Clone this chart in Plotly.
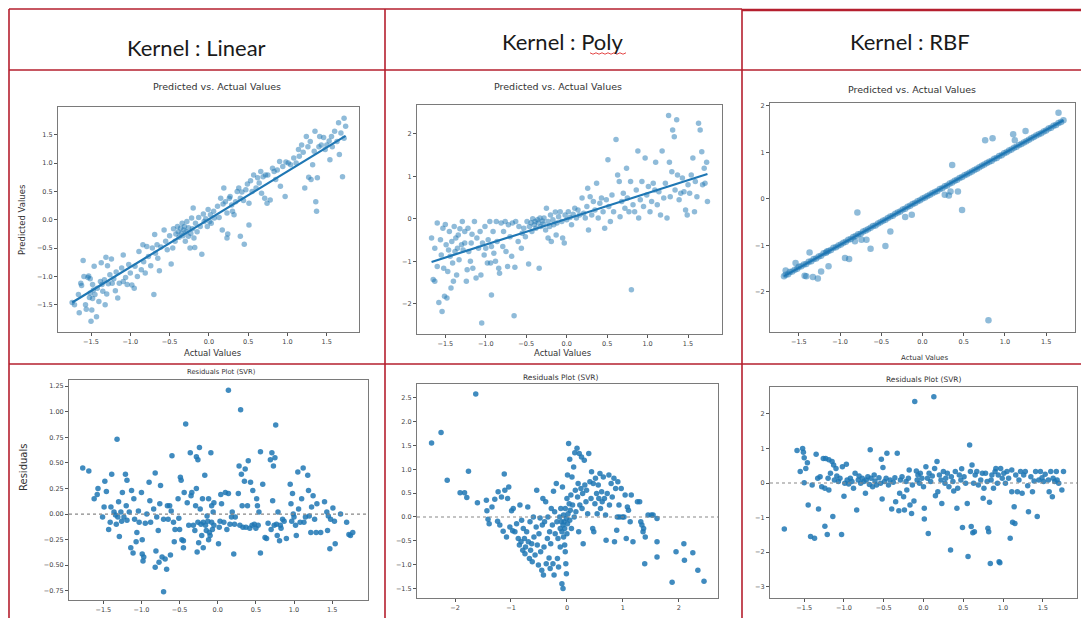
import plotly.graph_objects as go

# ---------------------------------------------------------------- data
KERNELS = ["Kernel : Linear", "Kernel : Poly", "Kernel : RBF"]
TOP_TITLE = "Predicted vs. Actual Values"
BOTTOM_TITLE = "Residuals Plot (SVR)"

# (actual, predicted) – linear kernel
LIN_POINTS = [
    (-1.74, -1.46), (-1.71, -1.50), (-1.66, -1.32), (-1.65, -1.64), (-1.63, -1.12), (-1.62, -1.16),
    (-1.60, -0.72), (-1.59, -1.00), (-1.57, -1.50), (-1.56, -1.58), (-1.54, -1.02), (-1.53, -0.99),
    (-1.52, -1.37), (-1.51, -1.04), (-1.51, -1.29), (-1.50, -1.79), (-1.49, -1.59), (-1.48, -1.14),
    (-1.48, -1.39), (-1.47, -1.24), (-1.46, -0.82), (-1.45, -1.32), (-1.43, -1.71), (-1.42, -1.21),
    (-1.40, -1.44), (-1.38, -1.09), (-1.37, -0.76), (-1.36, -1.14), (-1.35, -1.26), (-1.33, -1.06),
    (-1.32, -1.50), (-1.31, -0.66), (-1.30, -1.31), (-1.29, -0.81), (-1.28, -1.13), (-1.26, -0.97),
    (-1.24, -0.69), (-1.23, -1.12), (-1.21, -1.04), (-1.19, -1.25), (-1.18, -0.92), (-1.16, -1.38),
    (-1.14, -1.12), (-1.11, -0.85), (-1.09, -1.09), (-1.09, -0.62), (-1.06, -1.02), (-1.04, -1.14),
    (-1.02, -0.79), (-1.00, -0.94), (-0.98, -1.15), (-0.95, -1.21), (-0.94, -0.82), (-0.91, -1.00),
    (-0.89, -0.56), (-0.86, -0.88), (-0.84, -0.44), (-0.83, -0.74), (-0.81, -0.94), (-0.79, -0.47),
    (-0.77, -0.65), (-0.74, -0.81), (-0.72, -0.50), (-0.70, -1.32), (-0.69, -0.26), (-0.68, -0.59),
    (-0.66, -0.44), (-0.65, -0.68), (-0.63, -0.90), (-0.61, -0.48), (-0.57, -0.18), (-0.55, -0.38),
    (-0.53, -0.53), (-0.50, -0.28), (-0.48, -0.78), (-0.46, -0.50), (-0.45, -0.16), (-0.43, -0.38),
    (-0.42, -0.25), (-0.40, -0.12), (-0.39, -0.21), (-0.38, -0.31), (-0.36, -0.15), (-0.35, -0.24),
    (-0.34, -0.06), (-0.33, -0.28), (-0.32, -0.18), (-0.31, -0.12), (-0.30, -0.38), (-0.29, -0.21),
    (-0.28, -0.03), (-0.26, -0.29), (-0.26, -0.14), (-0.24, -0.50), (-0.23, -0.24), (-0.22, 0.03),
    (-0.21, -0.16), (-0.20, 0.21), (-0.19, -0.32), (-0.18, -0.49), (-0.17, -0.06), (-0.15, -0.21),
    (-0.13, 0.04), (-0.11, -0.12), (-0.09, -0.61), (-0.07, 0.10), (-0.06, -0.03), (-0.04, 0.02),
    (-0.02, -0.12), (-0.01, 0.18), (0.01, -0.03), (0.02, 0.09), (0.03, -0.06), (0.06, 0.15),
    (0.07, 0.03), (0.11, 0.24), (0.13, 0.04), (0.15, 0.38), (0.17, -0.18), (0.18, 0.28),
    (0.19, 0.56), (0.21, 0.32), (0.23, 0.12), (0.23, -0.32), (0.24, -0.25), (0.26, 0.38),
    (0.27, 0.41), (0.29, 0.26), (0.30, 0.15), (0.32, 0.09), (0.34, 0.32), (0.36, 0.50),
    (0.38, 0.56), (0.40, 0.38), (0.40, -0.29), (0.42, 0.49), (0.44, 0.34), (0.45, -0.43),
    (0.47, 0.53), (0.49, 0.63), (0.51, 0.29), (0.51, -0.09), (0.53, 0.69), (0.55, 0.50),
    (0.57, 0.79), (0.60, 0.56), (0.62, 0.74), (0.64, 0.65), (0.66, 0.85), (0.67, 0.47),
    (0.69, 0.76), (0.71, 0.38), (0.72, 0.79), (0.74, 0.29), (0.75, 0.79), (0.78, 0.35),
    (0.81, 0.91), (0.83, 0.85), (0.85, 0.71), (0.87, 0.88), (0.90, 1.03), (0.91, 0.59),
    (0.94, 0.94), (0.97, 0.41), (0.98, 1.02), (1.01, 1.00), (1.04, 0.97), (1.08, 1.09),
    (1.11, 1.00), (1.14, 1.24), (1.15, 1.12), (1.18, 1.32), (1.20, 1.19), (1.22, 0.56),
    (1.24, 1.47), (1.26, 1.29), (1.27, 0.75), (1.29, 1.38), (1.30, 0.71), (1.32, 0.97),
    (1.34, 1.21), (1.35, 1.56), (1.36, 0.32), (1.37, 0.15), (1.38, 0.74), (1.40, 1.29),
    (1.41, 1.47), (1.43, 1.32), (1.46, 1.45), (1.48, 1.24), (1.50, 1.32), (1.53, 1.39),
    (1.54, 1.06), (1.56, 1.47), (1.57, 1.29), (1.60, 1.56), (1.63, 1.38), (1.65, 1.71),
    (1.66, 1.15), (1.68, 1.53), (1.70, 0.76), (1.72, 1.79), (1.74, 1.65), (1.72, 1.44),
]

# (actual, predicted) – polynomial kernel
POLY_POINTS = [
    (-1.67, -0.45), (-1.65, -1.43), (-1.63, -0.69), (-1.63, -1.47), (-1.60, -0.10), (-1.60, -1.12),
    (-1.58, -1.97), (-1.56, -0.49), (-1.55, -0.85), (-1.54, -2.18), (-1.53, -0.22), (-1.52, -1.16),
    (-1.51, -1.82), (-1.50, -0.13), (-1.49, -0.61), (-1.48, -1.86), (-1.47, -1.24), (-1.46, -0.73),
    (-1.45, -0.30), (-1.44, -0.88), (-1.43, -1.63), (-1.42, -0.53), (-1.41, -1.04), (-1.40, -1.47),
    (-1.39, -0.18), (-1.38, -0.77), (-1.37, -0.45), (-1.36, -1.32), (-1.35, -0.69), (-1.34, -0.38),
    (-1.33, -0.96), (-1.32, -0.23), (-1.30, -0.61), (-1.29, -0.06), (-1.28, -0.73), (-1.26, -0.30),
    (-1.26, -0.57), (-1.24, -1.47), (-1.23, -1.20), (-1.22, -0.22), (-1.21, -0.77), (-1.19, -1.00),
    (-1.18, -0.57), (-1.17, -0.36), (-1.16, -1.16), (-1.14, -0.06), (-1.12, -1.39), (-1.11, -0.45),
    (-1.09, -0.69), (-1.07, -0.30), (-1.06, -1.32), (-1.05, -2.45), (-1.04, -0.57), (-1.02, -0.85),
    (-1.01, -0.18), (-1.00, -0.69), (-0.98, -1.04), (-0.97, -0.49), (-0.95, -0.06), (-0.94, -1.04),
    (-0.93, -1.79), (-0.93, -0.65), (-0.91, -0.30), (-0.90, -0.81), (-0.88, -1.00), (-0.87, -0.06),
    (-0.86, -0.53), (-0.84, -1.16), (-0.83, -1.28), (-0.81, -0.10), (-0.79, -0.65), (-0.78, -0.30),
    (-0.76, -0.06), (-0.75, -0.77), (-0.73, -1.12), (-0.72, -0.14), (-0.70, -0.42), (-0.68, -0.88),
    (-0.67, -0.10), (-0.65, -2.28), (-0.64, -1.14), (-0.63, -0.06), (-0.60, -0.53), (-0.59, -0.18),
    (-0.56, -0.69), (-0.55, -0.34), (-0.53, -0.22), (-0.51, -0.42), (-0.49, -0.06), (-0.47, -1.06),
    (-0.46, -0.18), (-0.44, -0.09), (-0.43, -0.30), (-0.42, 0.00), (-0.40, -0.14), (-0.39, -0.06),
    (-0.38, -0.22), (-0.36, -0.02), (-0.35, -0.10), (-0.34, -1.16), (-0.33, 0.02), (-0.32, -0.18),
    (-0.30, -0.05), (-0.29, -0.12), (-0.28, 0.02), (-0.26, -0.26), (-0.25, 0.25), (-0.23, -0.06),
    (-0.23, -0.45), (-0.21, -0.18), (-0.20, 0.09), (-0.19, -0.53), (-0.17, -0.02), (-0.16, -0.14),
    (-0.14, 0.16), (-0.13, -0.38), (-0.12, -0.10), (-0.10, 0.05), (-0.08, 0.17), (-0.06, -0.06),
    (-0.05, -0.45), (-0.03, -0.57), (-0.02, 0.09), (0.00, -0.02), (0.02, 0.17), (0.04, 0.03),
    (0.06, -0.14), (0.08, 0.11), (0.10, 0.25), (0.12, 0.02), (0.14, 0.21), (0.16, 0.09),
    (0.19, 0.49), (0.21, 0.13), (0.23, 0.02), (0.25, 0.29), (0.26, 0.72), (0.27, -0.26),
    (0.29, 0.52), (0.31, 0.09), (0.33, 0.41), (0.35, 0.21), (0.37, 0.84), (0.39, 0.02),
    (0.41, 0.37), (0.43, 0.49), (0.45, 0.17), (0.47, -0.22), (0.49, 0.45), (0.51, 1.39),
    (0.52, 0.29), (0.54, -0.06), (0.56, 0.56), (0.58, 0.17), (0.61, 1.87), (0.63, 1.03),
    (0.65, 0.88), (0.66, 0.05), (0.68, 0.41), (0.70, 0.60), (0.72, 0.25), (0.74, 1.19),
    (0.75, 0.49), (0.77, 0.17), (0.79, 0.88), (0.80, -1.67), (0.82, 0.33), (0.84, 0.17),
    (0.86, 0.68), (0.88, 1.60), (0.89, 0.02), (0.91, 0.45), (0.93, 0.88), (0.95, 0.29),
    (0.97, 1.43), (0.99, 0.56), (1.01, 0.76), (1.03, 0.17), (1.05, 0.41), (1.07, 0.84),
    (1.09, 0.68), (1.10, 1.33), (1.12, 0.33), (1.14, 0.64), (1.16, 0.09), (1.18, 1.60),
    (1.20, 0.49), (1.22, 0.84), (1.24, 0.02), (1.26, 2.43), (1.27, 1.33), (1.28, 0.52),
    (1.30, 1.11), (1.31, 2.09), (1.33, 1.93), (1.34, 0.68), (1.36, 2.33), (1.37, 1.03),
    (1.39, 0.45), (1.41, 0.60), (1.43, 0.96), (1.45, 0.64), (1.47, 0.21), (1.49, 0.09),
    (1.50, 0.80), (1.52, 0.60), (1.54, 1.03), (1.56, 1.43), (1.58, 0.17), (1.59, 0.88),
    (1.61, 0.52), (1.63, 2.25), (1.65, 2.09), (1.67, 1.58), (1.68, 0.80), (1.70, 1.19),
    (1.71, 0.84), (1.73, 1.33), (1.74, 0.41),
]

# (actual, predicted) – RBF kernel
RBF_ACTUAL = [
    -1.66, -1.63, -1.61, -1.58, -1.55, -1.52, -1.50, -1.47, -1.44, -1.41, -1.38, -1.35, -1.32, -1.29,
    -1.26, -1.23, -1.20, -1.17, -1.14, -1.11, -1.08, -1.05, -1.02, -0.99, -0.96, -0.93, -0.90, -0.87,
    -0.84, -0.81, -0.78, -0.75, -0.72, -0.69, -0.66, -0.63, -0.60, -0.57, -0.54, -0.51, -0.48, -0.45,
    -0.42, -0.39, -0.36, -0.33, -0.30, -0.27, -0.24, -0.21, -0.18, -0.15, -0.12, -0.09, -0.06, -0.03,
    0.00, 0.03, 0.06, 0.09, 0.12, 0.15, 0.18, 0.21, 0.24, 0.27, 0.30, 0.33, 0.36, 0.39,
    0.42, 0.45, 0.48, 0.51, 0.54, 0.57, 0.60, 0.63, 0.66, 0.69, 0.72, 0.75, 0.78, 0.81,
    0.84, 0.87, 0.90, 0.93, 0.96, 0.99, 1.02, 1.05, 1.08, 1.11, 1.14, 1.17, 1.20, 1.23,
    1.26, 1.29, 1.32, 1.35, 1.38, 1.41, 1.44, 1.47, 1.50, 1.53, 1.56, 1.59, 1.62, 1.65,
    1.68, 1.71,
    # off-line points
    -0.79, 0.36, 0.76, 0.85, 1.10, 1.12, 1.25, 1.65, 0.48, 0.43, 0.27, 0.32, 0.34, -0.21,
    -0.13, -0.39, -0.45, -0.63, -0.68, -0.74, -0.82, -0.89, -0.94, -1.16, -1.14, -1.23,
    -1.27, -1.33, -1.43, -1.41, -1.37, -1.54, 0.80, -1.66, -1.68,
]
RBF_PRED = [
    -1.63, -1.62, -1.57, -1.56, -1.52, -1.50, -1.46, -1.45, -1.41, -1.40, -1.35, -1.34, -1.29, -1.28,
    -1.24, -1.22, -1.17, -1.16, -1.12, -1.10, -1.05, -1.04, -1.00, -0.98, -0.94, -0.92, -0.88, -0.86,
    -0.82, -0.80, -0.76, -0.75, -0.70, -0.68, -0.65, -0.62, -0.58, -0.57, -0.53, -0.50, -0.47, -0.45,
    -0.41, -0.38, -0.36, -0.32, -0.29, -0.27, -0.23, -0.21, -0.17, -0.15, -0.11, -0.09, -0.05, -0.03,
    0.01, 0.03, 0.06, 0.09, 0.12, 0.15, 0.17, 0.21, 0.23, 0.27, 0.29, 0.33, 0.35, 0.39,
    0.41, 0.45, 0.47, 0.51, 0.53, 0.56, 0.59, 0.62, 0.65, 0.68, 0.71, 0.74, 0.77, 0.80,
    0.82, 0.86, 0.88, 0.92, 0.94, 0.98, 1.00, 1.04, 1.06, 1.10, 1.12, 1.16, 1.18, 1.21,
    1.24, 1.27, 1.30, 1.33, 1.36, 1.39, 1.41, 1.45, 1.47, 1.51, 1.53, 1.57, 1.59, 1.63,
    1.65, 1.69,
    -0.29, 0.73, 1.26, 1.30, 1.39, 1.26, 1.46, 1.85, -0.24, 0.16, 0.09, 0.07, 0.16, -0.39,
    -0.34, -0.70, -1.01, -1.07, -0.88, -0.88, -0.91, -1.29, -1.27, -1.13, -1.45, -1.56,
    -1.71, -1.68, -1.65, -1.66, -1.15, -1.38, -2.61, -1.54, -1.66,
]

# regression line (slope, intercept) of each top panel
LIN_FIT = (0.845, 0.01)
POLY_FIT = (0.607, 0.0)
RBF_FIT = (0.988, 0.0)

# (predicted, residual) – linear kernel
LIN_RESID = [
    (-1.77, 0.45), (-1.69, 0.42), (-1.62, 0.15), (-1.57, 0.25), (-1.58, 0.19), (-1.51, -0.03),
    (-1.49, 0.07), (-1.48, 0.32), (-1.46, 0.22), (-1.43, -0.15), (-1.41, -0.08), (-1.40, 0.07),
    (-1.39, 0.39), (-1.36, 0.02), (-1.34, -0.01), (-1.33, -0.10), (-1.32, 0.73), (-1.31, -0.03),
    (-1.30, 0.12), (-1.29, -0.22), (-1.27, 0.02), (-1.26, -0.07), (-1.25, 0.21), (-1.23, -0.03),
    (-1.21, 0.39), (-1.20, 0.08), (-1.19, 0.33), (-1.19, -0.06), (-1.16, 0.02), (-1.14, -0.33),
    (-1.13, 0.23), (-1.11, -0.38), (-1.10, 0.15), (-1.09, -0.05), (-1.07, -0.27), (-1.06, -0.18),
    (-1.04, 0.03), (-1.03, -0.08), (-1.00, 0.21), (-0.99, -0.39), (-0.99, -0.25), (-0.98, -0.46),
    (-0.97, -0.42), (-0.95, -0.09), (-0.93, 0.00), (-0.90, 0.31), (-0.89, 0.13), (-0.88, -0.08),
    (-0.84, 0.05), (-0.82, -0.52), (-0.82, 0.40), (-0.81, -0.36), (-0.80, -0.03), (-0.78, -0.16),
    (-0.77, -0.47), (-0.76, 0.10), (-0.75, 0.28), (-0.73, -0.42), (-0.71, -0.76), (-0.71, -0.05),
    (-0.69, -0.44), (-0.67, -0.54), (-0.66, 0.08), (-0.65, -0.05), (-0.63, 0.08), (-0.62, -0.40),
    (-0.61, 0.03), (-0.60, 0.57), (-0.58, -0.08), (-0.57, -0.27), (-0.56, -0.15), (-0.52, 0.15),
    (-0.51, -0.04), (-0.50, -0.15), (-0.49, 0.36), (-0.48, 0.33), (-0.47, -0.25), (-0.45, -0.26),
    (-0.45, -0.33), (-0.44, 0.21), (-0.42, 0.88), (-0.40, 0.11), (-0.38, -0.11), (-0.36, 0.60),
    (-0.35, 0.18), (-0.34, 0.21), (-0.32, -0.11), (-0.30, -0.16), (-0.29, 0.08), (-0.28, 0.56),
    (-0.28, 0.25), (-0.27, -0.37), (-0.26, 0.53), (-0.26, -0.08), (-0.25, -0.28), (-0.24, 0.65),
    (-0.23, 0.05), (-0.22, -0.10), (-0.21, -0.21), (-0.20, 0.15), (-0.19, -0.33), (-0.19, -0.08),
    (-0.17, 0.38), (-0.16, -0.11), (-0.15, -0.16), (-0.14, -0.02), (-0.13, -0.07), (-0.12, -0.25),
    (-0.12, 0.15), (-0.11, -0.18), (-0.10, -0.21), (-0.09, 0.60), (-0.08, -0.08), (-0.08, 0.08),
    (-0.07, -0.15), (-0.06, 0.02), (-0.05, -0.11), (-0.05, 0.11), (0.01, -0.29), (0.02, -0.13),
    (0.03, -0.07), (0.04, 0.19), (0.05, 0.10), (0.08, -0.08), (0.10, 0.21), (0.12, -0.15),
    (0.14, 1.21), (0.14, 0.20), (0.16, -0.10), (0.18, -0.03), (0.19, 0.02), (0.21, -0.39),
    (0.22, -0.10), (0.23, -0.03), (0.27, 0.20), (0.28, 0.47), (0.29, -0.11), (0.30, 1.02),
    (0.31, 0.39), (0.32, 0.08), (0.33, -0.13), (0.35, 0.32), (0.36, 0.44), (0.37, -0.13),
    (0.39, 0.08), (0.40, 0.52), (0.42, -0.14), (0.43, 0.31), (0.45, -0.11), (0.46, 0.23),
    (0.48, -0.10), (0.50, -0.14), (0.51, 0.15), (0.52, 0.08), (0.53, -0.11), (0.54, 0.02),
    (0.56, -0.38), (0.56, 0.61), (0.59, 0.29), (0.62, -0.23), (0.64, -0.24), (0.66, -0.09),
    (0.69, 0.53), (0.70, -0.15), (0.71, 0.60), (0.72, 0.13), (0.73, 0.47), (0.74, -0.11),
    (0.75, 0.55), (0.76, 0.87), (0.77, -0.10), (0.78, -0.21), (0.79, 0.02), (0.81, -0.26),
    (0.82, -0.11), (0.83, -0.14), (0.85, -0.05), (0.87, -0.07), (0.90, -0.24), (0.95, 0.29),
    (0.96, 0.10), (0.97, -0.07), (0.98, 0.20), (0.99, 0.00), (1.00, -0.03), (1.02, -0.11),
    (1.03, -0.21), (1.05, 0.41), (1.06, 0.05), (1.08, -0.08), (1.10, 0.15), (1.12, 0.45),
    (1.13, -0.08), (1.15, -0.03), (1.18, 0.38), (1.19, 0.23), (1.20, -0.02), (1.22, -0.18),
    (1.23, 0.07), (1.25, 0.18), (1.27, -0.05), (1.29, -0.18), (1.30, 0.10), (1.35, -0.18),
    (1.40, 0.12), (1.43, 0.02), (1.44, -0.16), (1.45, -0.02), (1.47, -0.34), (1.48, -0.05),
    (1.51, 0.06), (1.53, -0.07), (1.54, -0.29), (1.61, 0.00), (1.69, -0.08), (1.72, -0.20),
    (1.74, -0.21), (1.77, -0.18),
]

# (predicted, residual) – polynomial kernel
POLY_RESID = [
    (-2.42, 1.55), (-2.25, 1.77), (-2.14, 0.77), (-1.91, 0.51), (-1.83, 0.51), (-1.79, 0.41),
    (-1.76, 0.96), (-1.63, 2.58), (-1.60, 0.30), (-1.44, 0.35), (-1.43, 0.13), (-1.41, -0.05),
    (-1.39, -0.14), (-1.34, 0.21), (-1.29, 0.37), (-1.24, -0.09), (-1.23, 0.53), (-1.20, -0.17),
    (-1.17, 0.42), (-1.14, -0.30), (-1.12, 0.90), (-1.11, 0.56), (-1.08, -0.42), (-1.06, 0.39),
    (-1.04, 0.63), (-1.02, -0.21), (-0.99, 0.13), (-0.97, -0.29), (-0.96, 0.18), (-0.93, -0.31),
    (-0.90, -0.14), (-0.87, -0.45), (-0.85, -0.59), (-0.84, 0.25), (-0.82, -0.52), (-0.81, -0.07),
    (-0.79, -0.70), (-0.78, -0.24), (-0.76, -0.45), (-0.75, -0.77), (-0.74, -0.63), (-0.72, -0.31),
    (-0.70, 0.21), (-0.69, -0.52), (-0.67, -0.87), (-0.66, -0.10), (-0.65, -0.70), (-0.63, -0.56),
    (-0.62, -0.94), (-0.60, 0.00), (-0.59, -0.42), (-0.57, -0.80), (-0.55, -0.21), (-0.54, 0.56),
    (-0.53, -0.59), (-0.51, -1.01), (-0.50, -0.35), (-0.48, -0.02), (-0.47, -0.73), (-0.45, -1.12),
    (-0.44, -0.17), (-0.43, 0.39), (-0.42, -1.22), (-0.41, -0.63), (-0.40, -0.10), (-0.38, 0.32),
    (-0.37, -0.98), (-0.35, -0.45), (-0.34, 0.00), (-0.32, -0.86), (-0.31, -0.31), (-0.30, -1.08),
    (-0.29, -0.56), (-0.28, 0.18), (-0.26, -0.17), (-0.25, -0.98), (-0.24, 0.54), (-0.23, -1.22),
    (-0.22, 0.11), (-0.21, -0.35), (-0.19, 0.70), (-0.18, -0.10), (-0.17, -0.87), (-0.16, -0.45),
    (-0.15, -1.05), (-0.13, 0.00), (-0.12, -0.24), (-0.12, -0.63), (-0.11, 0.18), (-0.10, -0.10),
    (-0.09, -1.40), (-0.09, -0.31), (-0.08, 0.63), (-0.07, -0.17), (-0.07, -1.50), (-0.06, 0.04),
    (-0.06, -0.42), (-0.05, -0.10), (-0.04, -0.59), (-0.04, -0.24), (-0.03, -0.73), (-0.03, 0.18),
    (-0.02, -0.98), (-0.01, -0.03), (-0.01, -1.19), (0.00, -0.35), (0.00, 0.39), (0.01, -0.14),
    (0.01, 0.88), (0.02, 0.07), (0.03, 1.54), (0.04, 0.28), (0.05, 1.21), (0.05, -0.07),
    (0.06, 0.14), (0.07, 0.46), (0.08, -0.24), (0.09, 0.84), (0.10, 0.25), (0.12, 1.05),
    (0.13, 0.00), (0.14, 1.35), (0.15, 0.56), (0.16, 0.11), (0.18, 1.44), (0.19, 0.42),
    (0.20, 0.70), (0.21, -0.31), (0.22, 1.33), (0.23, 0.25), (0.25, 0.60), (0.26, 1.26),
    (0.27, 0.18), (0.28, 0.49), (0.29, -0.56), (0.31, 1.19), (0.32, 0.67), (0.34, 0.32),
    (0.35, 0.56), (0.37, 0.07), (0.39, 1.33), (0.41, 0.74), (0.43, 0.39), (0.44, 0.95),
    (0.46, -0.24), (0.47, 0.70), (0.48, -0.31), (0.50, 0.28), (0.51, 0.81), (0.53, 0.49),
    (0.54, 0.07), (0.56, 0.67), (0.57, 0.39), (0.59, 0.91), (0.60, 0.18), (0.62, 0.53),
    (0.63, 0.32), (0.65, 0.84), (0.67, 0.39), (0.69, 0.04), (0.70, -0.49), (0.72, 0.49),
    (0.75, 0.88), (0.76, 0.25), (0.79, 0.70), (0.81, 0.42), (0.84, 0.81), (0.85, -0.52),
    (0.87, 0.60), (0.89, -0.28), (0.90, 0.00), (0.91, 0.74), (0.93, 0.25), (0.94, 0.00),
    (0.97, 0.60), (0.99, 0.00), (1.02, 0.00), (1.04, 0.46), (1.06, -0.45), (1.08, 0.21),
    (1.10, 0.14), (1.13, -0.10), (1.15, 0.46), (1.18, -0.52), (1.26, 0.32), (1.30, 0.32),
    (1.32, -0.10), (1.34, -0.17), (1.36, -0.31), (1.37, -0.24), (1.39, -0.98), (1.40, -0.42),
    (1.45, 0.04), (1.51, 0.04), (1.54, 0.04), (1.61, -0.03), (1.61, -0.52), (1.61, -0.84),
    (1.88, -1.37), (1.95, -0.73), (2.09, -0.56), (2.10, -0.91), (2.25, -0.75), (2.34, -1.12),
    (2.45, -1.35),
]

# (predicted, residual) – RBF kernel
RBF_RESID = [
    (-1.75, -1.33), (-1.59, 0.94), (-1.55, 0.33), (-1.52, 1.00), (-1.51, 0.89), (-1.50, 0.73),
    (-1.50, 0.01), (-1.48, 0.42), (-1.46, 0.59), (-1.45, -0.64), (-1.42, -1.55), (-1.40, -0.06),
    (-1.37, -1.60), (-1.35, 0.83), (-1.33, 0.14), (-1.32, -0.75), (-1.30, 0.18), (-1.28, -0.11),
    (-1.26, 0.71), (-1.24, -0.15), (-1.24, -1.25), (-1.23, 0.71), (-1.21, -1.49), (-1.20, 0.14),
    (-1.19, 0.67), (-1.19, -0.20), (-1.17, 0.28), (-1.15, 0.62), (-1.14, -0.97), (-1.13, 0.52),
    (-1.12, 0.09), (-1.10, 0.42), (-1.09, 0.20), (-1.07, 0.04), (-1.05, 0.14), (-1.03, -1.49),
    (-1.02, 0.47), (-1.00, -0.38), (-0.99, -0.01), (-0.97, 0.54), (-0.96, 0.09), (-0.94, -0.03),
    (-0.92, 0.14), (-0.90, 0.04), (-0.88, -0.15), (-0.86, 0.28), (-0.84, -0.78), (-0.82, 0.09),
    (-0.81, 0.20), (-0.79, -0.01), (-0.77, 0.14), (-0.75, 0.04), (-0.73, -0.30), (-0.72, 0.09),
    (-0.70, 0.18), (-0.68, -0.04), (-0.67, 0.96), (-0.66, 0.14), (-0.64, -0.11), (-0.62, 0.23),
    (-0.61, 0.06), (-0.59, -0.06), (-0.56, 0.15), (-0.54, -0.01), (-0.53, 0.69), (-0.52, -0.46),
    (-0.51, 0.45), (-0.49, 0.04), (-0.47, 0.14), (-0.46, 0.86), (-0.44, -0.06), (-0.42, 0.09),
    (-0.40, -0.75), (-0.38, 0.02), (-0.36, 0.15), (-0.35, -0.54), (-0.33, 0.86), (-0.31, -0.80),
    (-0.30, -0.30), (-0.29, 0.09), (-0.27, 0.18), (-0.25, -0.40), (-0.24, -0.78), (-0.22, 0.04),
    (-0.21, -0.20), (-0.19, 0.14), (-0.18, 0.38), (-0.17, -0.64), (-0.15, -0.88), (-0.14, -0.06),
    (-0.12, -0.52), (-0.11, 2.36), (-0.09, 0.35), (-0.08, 0.09), (-0.07, 0.23), (-0.05, -0.01),
    (-0.04, 0.28), (-0.02, 0.14), (0.00, -0.11), (0.01, -0.73), (0.01, -1.04), (0.03, 0.47),
    (0.05, 0.14), (0.06, -1.46), (0.07, 0.28), (0.09, 0.04), (0.11, 0.20), (0.13, 2.50),
    (0.14, 0.42), (0.15, -0.37), (0.17, 0.62), (0.18, -0.25), (0.20, 0.23), (0.22, 0.09),
    (0.23, -0.59), (0.25, 0.33), (0.27, -0.01), (0.28, 0.14), (0.30, 0.28), (0.32, -0.11),
    (0.34, -1.94), (0.35, 0.18), (0.37, 0.04), (0.38, -0.23), (0.40, 0.33), (0.42, -0.73),
    (0.43, -0.15), (0.45, 0.23), (0.47, 0.09), (0.48, 0.41), (0.49, -1.29), (0.51, 0.18),
    (0.53, -0.01), (0.55, -0.59), (0.56, -2.13), (0.58, 1.10), (0.59, 0.33), (0.60, -1.26),
    (0.61, 0.52), (0.62, -1.44), (0.63, -0.01), (0.64, -1.41), (0.65, 0.23), (0.67, 0.33),
    (0.69, -0.06), (0.72, 0.09), (0.74, 0.28), (0.75, -0.44), (0.76, -0.15), (0.78, 0.28),
    (0.80, 0.04), (0.81, -1.31), (0.82, -1.41), (0.83, -0.56), (0.84, -2.33), (0.85, 0.09),
    (0.86, 0.23), (0.88, -0.15), (0.90, 0.33), (0.91, 0.42), (0.93, -0.01), (0.94, 0.23),
    (0.95, -2.28), (0.96, -2.31), (0.97, 0.42), (0.99, 0.14), (1.01, 0.28), (1.03, -0.01),
    (1.05, 0.33), (1.07, 0.14), (1.09, -1.60), (1.11, -0.25), (1.11, 0.38), (1.12, -1.14),
    (1.14, -0.69), (1.15, -1.17), (1.16, 0.23), (1.18, -0.25), (1.20, 0.09), (1.22, 0.33),
    (1.24, -0.30), (1.26, 0.23), (1.28, 0.33), (1.31, -0.08), (1.32, -0.83), (1.35, 0.18),
    (1.37, -0.25), (1.39, 0.06), (1.41, 0.33), (1.43, -0.97), (1.45, 0.09), (1.47, 0.33),
    (1.49, 0.15), (1.51, 0.04), (1.53, 0.25), (1.57, 0.09), (1.58, -0.25), (1.60, 0.33),
    (1.62, -0.40), (1.63, 0.14), (1.65, 0.04), (1.67, 0.33), (1.68, 0.09), (1.70, -0.01),
    (1.74, -0.20), (1.76, 0.33),
]

# ---------------------------------------------------------------- layout helpers
W, H = 1081, 618
BLUE = "#1f77b4"
GRID_RED = "#b51f2e"
TICK_FONT = dict(family="DejaVu Sans", size=6.5, color="#444")


def fx(p):
    return p / W


def fy(p):
    return 1 - p / H


# plot-area boxes in pixels: left, right, top, bottom
BOXES = {
    1: (58, 359, 107, 332),
    2: (417, 722, 105, 334),
    3: (770, 1075, 103, 332),
    4: (69, 368, 380, 600),
    5: (417, 718, 384, 598),
    6: (770, 1077, 387, 598),
}

AXES = {
    1: dict(xr=[-1.92, 1.91], yr=[-1.98, 1.99], xt=[-1.5, -1, -0.5, 0, 0.5, 1, 1.5], xf=".1f",
            yt=[-1.5, -1, -0.5, 0, 0.5, 1, 1.5], yf=".1f"),
    2: dict(xr=[-1.85, 1.92], yr=[-2.71, 2.68], xt=[-1.5, -1, -0.5, 0, 0.5, 1, 1.5], xf=".1f",
            yt=[-2, -1, 0, 1, 2], yf="d"),
    3: dict(xr=[-1.85, 1.85], yr=[-2.86, 2.06], xt=[-1.5, -1, -0.5, 0, 0.5, 1, 1.5], xf=".1f",
            yt=[-2, -1, 0, 1, 2], yf="d"),
    4: dict(xr=[-1.95, 1.97], yr=[-0.84, 1.31], xt=[-1.5, -1, -0.5, 0, 0.5, 1, 1.5], xf=".1f",
            yt=[-0.75, -0.5, -0.25, 0, 0.25, 0.5, 0.75, 1, 1.25], yf=".2f"),
    5: dict(xr=[-2.68, 2.70], yr=[-1.70, 2.79], xt=[-2, -1, 0, 1, 2], xf="d",
            yt=[-1.5, -1, -0.5, 0, 0.5, 1, 1.5, 2, 2.5], yf=".1f"),
    6: dict(xr=[-1.93, 1.93], yr=[-3.33, 2.78], xt=[-1.5, -1, -0.5, 0, 0.5, 1, 1.5], xf=".1f",
            yt=[-3, -2, -1, 0, 1, 2], yf="d"),
}

fig = go.Figure()


def ax_name(i, kind):
    return kind if i == 1 else f"{kind}{i}"


def ref(i, kind):
    return kind if i == 1 else f"{kind}{i}"


# ---------------------------------------------------------------- traces
def top_panel(i, xs, ys, fit, size=5.5):
    fig.add_trace(go.Scatter(
        x=xs, y=ys, mode="markers", xaxis=ref(i, "x"), yaxis=ref(i, "y"),
        marker=dict(color=BLUE, size=size, opacity=0.5, line=dict(width=0)),
        showlegend=False, hoverinfo="skip"))
    slope, intercept = fit
    x0, x1 = min(xs), max(xs)
    fig.add_trace(go.Scatter(
        x=[x0, x1], y=[slope * x0 + intercept, slope * x1 + intercept], mode="lines",
        xaxis=ref(i, "x"), yaxis=ref(i, "y"), line=dict(color=BLUE, width=2.2),
        showlegend=False, hoverinfo="skip"))


def bottom_panel(i, pts):
    xs = [p[0] for p in pts]
    ys = [p[1] for p in pts]
    fig.add_trace(go.Scatter(
        x=xs, y=ys, mode="markers", xaxis=ref(i, "x"), yaxis=ref(i, "y"),
        marker=dict(color=BLUE, size=5.5, opacity=0.85, line=dict(width=0)),
        showlegend=False, hoverinfo="skip"))
    fig.add_shape(type="line", xref=f"{ref(i, 'x')} domain", yref=ref(i, "y"),
                  x0=0, x1=1, y0=0, y1=0, line=dict(color="#888", width=1.2, dash="dot"))


top_panel(1, [p[0] for p in LIN_POINTS], [p[1] for p in LIN_POINTS], LIN_FIT)
top_panel(2, [p[0] for p in POLY_POINTS], [p[1] for p in POLY_POINTS], POLY_FIT)
top_panel(3, RBF_ACTUAL[:len(RBF_PRED)], RBF_PRED[:len(RBF_ACTUAL)], RBF_FIT, size=6.5)
bottom_panel(4, LIN_RESID)
bottom_panel(5, POLY_RESID)
bottom_panel(6, RBF_RESID)

# ---------------------------------------------------------------- axes
layout_axes = {}
for i, (l, r, t, b) in BOXES.items():
    a = AXES[i]
    common = dict(showline=True, mirror=True, linecolor="#7a7a7a", linewidth=1,
                  showgrid=False, zeroline=False, ticks="outside", ticklen=3,
                  tickcolor="#555", tickwidth=0.8, tickfont=TICK_FONT, fixedrange=True)
    layout_axes[ax_name(i, "xaxis")] = dict(
        domain=[fx(l), fx(r)], range=a["xr"], tickvals=a["xt"], tickformat=a["xf"],
        anchor=ref(i, "y"), **common)
    layout_axes[ax_name(i, "yaxis")] = dict(
        domain=[fy(b), fy(t)], range=a["yr"], tickvals=a["yt"], tickformat=a["yf"],
        anchor=ref(i, "x"), **common)

fig.update_layout(**layout_axes)

# ---------------------------------------------------------------- text
ann = []


def text(s, x, y, size, family="DejaVu Sans", color="#333", angle=0):
    ann.append(dict(text=s, x=fx(x), y=fy(y), xref="paper", yref="paper", showarrow=False,
                    xanchor="center", yanchor="middle", textangle=angle,
                    font=dict(family=family, size=size, color=color)))


# column headers
text(KERNELS[0], 197, 47, 22, family="Lato", color="#1a1a1a")
text(KERNELS[1], 563, 41, 22, family="Lato", color="#1a1a1a")
text(KERNELS[2], 910, 42, 22, family="Lato", color="#1a1a1a")

# panel titles
text(TOP_TITLE, 217, 87, 9.5)
text(TOP_TITLE, 558, 86, 9.5)
text(TOP_TITLE, 912, 89, 9.5)
text(BOTTOM_TITLE, 221, 372, 6.8)
text(BOTTOM_TITLE, 561, 378, 7.5)
text(BOTTOM_TITLE, 924, 379, 7.5)

# axis titles
text("Actual Values", 213, 353, 8.5)
text("Actual Values", 563, 353, 8.5)
text("Actual Values", 924, 358, 7)
text("Predicted Values", 22, 220, 8.5, angle=-90)
text("Residuals", 23, 468, 10, angle=-90)

fig.update_layout(annotations=ann)

# ---------------------------------------------------------------- table grid
grid = [
    # (x0, y0, x1, y1, width)
    (9, 9, 742, 9, 1.4),
    (742, 10, 1081, 10, 2.4),
    (9, 70, 1081, 70, 1.6),
    (9, 364, 1081, 364, 1.6),
    (9, 9, 9, 618, 1.6),
    (385, 9, 385, 618, 1.6),
    (742, 9, 742, 618, 1.6),
]
for x0, y0, x1, y1, w in grid:
    fig.add_shape(type="line", xref="paper", yref="paper",
                  x0=fx(x0), y0=fy(y0), x1=fx(x1), y1=fy(y1),
                  line=dict(color=GRID_RED, width=w))

# spell-check squiggle under "Poly"
wave_x = [590 + 3 * k for k in range(13)]
wave_path = "M " + " L ".join(
    f"{fx(xv):.5f},{fy(53 + (1.2 if k % 2 else -0.2)):.5f}" for k, xv in enumerate(wave_x))
fig.add_shape(type="path", xref="paper", yref="paper", path=wave_path,
              line=dict(color="#e03030", width=0.9))

fig.update_layout(
    width=W, height=H, margin=dict(l=0, r=0, t=0, b=0),
    paper_bgcolor="white", plot_bgcolor="white", showlegend=False,
)

fig.write_html("out.html")
